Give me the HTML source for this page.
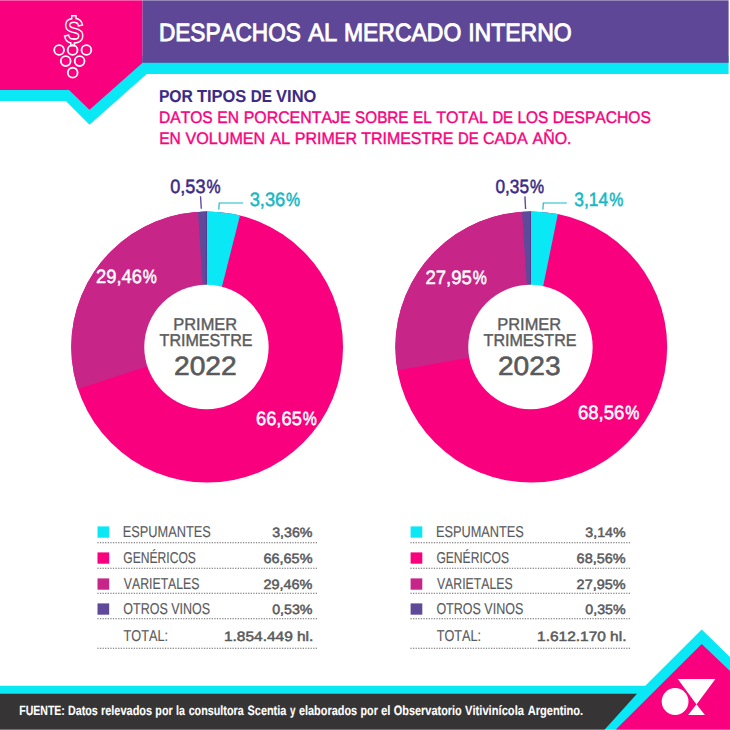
<!DOCTYPE html>
<html lang="es"><head><meta charset="utf-8"><title>Despachos al mercado interno</title>
<style>
html,body{margin:0;padding:0;background:#fff;}
body{width:730px;height:730px;overflow:hidden;}
svg{display:block;}
text{font-family:"Liberation Sans",sans-serif;font-kerning:none;text-rendering:geometricPrecision;}
</style></head><body>
<svg width="730" height="730" viewBox="0 0 730 730">
<rect width="730" height="730" fill="#fff"/>
<path d="M0 56H728.6V74H146.7L89.5 124.8L65.8 101H0Z" fill="#0AE8F6"/>
<rect x="142.3" y="0" width="586.3" height="62.8" fill="#5E4796"/>
<path d="M0 0H142.3V63L89.5 109.8L69 90H0Z" fill="#F8007E"/>
<g fill="#F8007E" stroke="#fff" stroke-width="3" paint-order="stroke" stroke-linejoin="miter"><rect x="72.5" y="16.5" width="2.8" height="5"/><rect x="71.5" y="39.5" width="2.2" height="5.5"/><text transform="translate(73.7 41.8) scale(0.88 1)" x="0" y="0" font-size="32.6" text-anchor="middle">S</text></g>
<rect x="72.5" y="17.5" width="2.8" height="3.6" fill="#F8007E"/><rect x="71.5" y="39.8" width="2.2" height="4" fill="#F8007E"/>
<circle cx="59.1" cy="50" r="4.9" fill="none" stroke="#fff" stroke-width="1.85"/>
<circle cx="72.6" cy="50" r="4.9" fill="none" stroke="#fff" stroke-width="1.85"/>
<circle cx="86.4" cy="50" r="4.9" fill="none" stroke="#fff" stroke-width="1.85"/>
<circle cx="65.7" cy="61.1" r="4.9" fill="none" stroke="#fff" stroke-width="1.85"/>
<circle cx="79.6" cy="61.1" r="4.9" fill="none" stroke="#fff" stroke-width="1.85"/>
<circle cx="72.7" cy="72.7" r="4.9" fill="none" stroke="#fff" stroke-width="1.85"/>
<text font-size="26.4" fill="#fff" font-weight="normal"><tspan x="158.93" y="41.18" font-size="25.00" textLength="141.89" lengthAdjust="spacingAndGlyphs" stroke="#fff" stroke-width="0.96">DESPACHOS</tspan> <tspan x="308.21" y="41.18" font-size="25.08" textLength="29.02" lengthAdjust="spacingAndGlyphs" stroke="#fff" stroke-width="0.91">AL</tspan> <tspan x="343.89" y="41.18" font-size="25.03" textLength="117.41" lengthAdjust="spacingAndGlyphs" stroke="#fff" stroke-width="0.94">MERCADO</tspan> <tspan x="468.15" y="41.18" font-size="25.03" textLength="103.56" lengthAdjust="spacingAndGlyphs" stroke="#fff" stroke-width="0.94">INTERNO</tspan></text>
<text font-size="17.4" fill="#3C2A85" font-weight="bold"><tspan x="158.91" y="101.60" font-size="17.24" textLength="33.85" lengthAdjust="spacingAndGlyphs" stroke="#3C2A85" stroke-width="0.11">POR</tspan> <tspan x="196.95" y="101.60" font-size="17.31" textLength="49.26" lengthAdjust="spacingAndGlyphs" stroke="#3C2A85" stroke-width="0.06">TIPOS</tspan> <tspan x="250.65" y="101.60" font-size="17.20" textLength="21.18" lengthAdjust="spacingAndGlyphs" stroke="#3C2A85" stroke-width="0.13">DE</tspan> <tspan x="276.12" y="101.60" font-size="17.31" textLength="40.24" lengthAdjust="spacingAndGlyphs" stroke="#3C2A85" stroke-width="0.06">VINO</tspan></text>
<text font-size="17.4" fill="#F8007E" font-weight="normal"><tspan x="159.03" y="122.62" font-size="16.80" textLength="53.77" lengthAdjust="spacingAndGlyphs" stroke="#F8007E" stroke-width="0.41">DATOS</tspan> <tspan x="217.33" y="122.62" font-size="16.80" textLength="21.63" lengthAdjust="spacingAndGlyphs" stroke="#F8007E" stroke-width="0.41">EN</tspan> <tspan x="243.70" y="122.62" font-size="16.82" textLength="106.86" lengthAdjust="spacingAndGlyphs" stroke="#F8007E" stroke-width="0.40">PORCENTAJE</tspan> <tspan x="355.12" y="122.62" font-size="16.77" textLength="53.40" lengthAdjust="spacingAndGlyphs" stroke="#F8007E" stroke-width="0.43">SOBRE</tspan> <tspan x="413.07" y="122.62" font-size="16.77" textLength="18.62" lengthAdjust="spacingAndGlyphs" stroke="#F8007E" stroke-width="0.43">EL</tspan> <tspan x="436.13" y="122.62" font-size="16.83" textLength="51.79" lengthAdjust="spacingAndGlyphs" stroke="#F8007E" stroke-width="0.39">TOTAL</tspan> <tspan x="492.41" y="122.62" font-size="16.74" textLength="20.60" lengthAdjust="spacingAndGlyphs" stroke="#F8007E" stroke-width="0.45">DE</tspan> <tspan x="517.55" y="122.62" font-size="16.78" textLength="30.84" lengthAdjust="spacingAndGlyphs" stroke="#F8007E" stroke-width="0.42">LOS</tspan> <tspan x="552.83" y="122.62" font-size="16.80" textLength="98.06" lengthAdjust="spacingAndGlyphs" stroke="#F8007E" stroke-width="0.41">DESPACHOS</tspan></text>
<text font-size="17.4" fill="#F8007E" font-weight="normal"><tspan x="159.13" y="143.92" font-size="16.80" textLength="21.63" lengthAdjust="spacingAndGlyphs" stroke="#F8007E" stroke-width="0.41">EN</tspan> <tspan x="185.62" y="143.92" font-size="16.83" textLength="79.57" lengthAdjust="spacingAndGlyphs" stroke="#F8007E" stroke-width="0.39">VOLUMEN</tspan> <tspan x="269.95" y="143.92" font-size="16.87" textLength="20.32" lengthAdjust="spacingAndGlyphs" stroke="#F8007E" stroke-width="0.36">AL</tspan> <tspan x="294.78" y="143.92" font-size="16.83" textLength="62.25" lengthAdjust="spacingAndGlyphs" stroke="#F8007E" stroke-width="0.39">PRIMER</tspan> <tspan x="361.24" y="143.92" font-size="16.82" textLength="92.12" lengthAdjust="spacingAndGlyphs" stroke="#F8007E" stroke-width="0.40">TRIMESTRE</tspan> <tspan x="458.01" y="143.92" font-size="16.74" textLength="20.60" lengthAdjust="spacingAndGlyphs" stroke="#F8007E" stroke-width="0.45">DE</tspan> <tspan x="482.98" y="143.92" font-size="16.83" textLength="44.65" lengthAdjust="spacingAndGlyphs" stroke="#F8007E" stroke-width="0.39">CADA</tspan> <tspan x="532.57" y="143.92" font-size="16.82" textLength="38.98" lengthAdjust="spacingAndGlyphs" stroke="#F8007E" stroke-width="0.40">AÑO.</tspan></text>
<clipPath id="ring1"><ellipse cx="207.15" cy="347.0" rx="135.9" ry="135.5"/></clipPath>
<g clip-path="url(#ring1)">
<rect x="69.2" y="208.9" width="275.8" height="275.8" fill="#F8007E"/>
<path d="M207.15 346.8L-1.96 415.15A220 220 0 0 1 207.15 126.80Z" fill="#C82588"/>
<path d="M206.7 347L206.70 127.00A220 220 0 0 1 260.67 133.72Z" fill="#0AE8F6"/>
<path d="M206.7 347L192.50 127.46A220 220 0 0 1 207.08 127.00Z" fill="#5F4A9A"/>
<line x1="206.39999999999998" y1="209.9" x2="206.39999999999998" y2="284.6" stroke="#4A3690" stroke-width="0.7"/>
</g>
<circle cx="206.45" cy="347.05" r="62.2" fill="#fff"/>
<clipPath id="ring2"><ellipse cx="531.25" cy="347.0" rx="135.9" ry="135.5"/></clipPath>
<g clip-path="url(#ring2)">
<rect x="393.4" y="208.9" width="275.8" height="275.8" fill="#F8007E"/>
<path d="M531.25 346.8L314.59 385.00A220 220 0 0 1 531.25 126.80Z" fill="#C82588"/>
<path d="M530.8 347L530.80 127.00A220 220 0 0 1 574.66 131.42Z" fill="#0AE8F6"/>
<path d="M530.8 347L516.60 127.46A220 220 0 0 1 531.18 127.00Z" fill="#5F4A9A"/>
<line x1="530.5" y1="209.9" x2="530.5" y2="284.6" stroke="#4A3690" stroke-width="0.7"/>
</g>
<circle cx="530.45" cy="347.05" r="62.2" fill="#fff"/>
<path d="M200.5 196.2L201.3 208.8" stroke="#5F4A9A" stroke-width="1.4" fill="none"/>
<path d="M218.8 209.6L219.2 203H243.2" stroke="#18B7C5" stroke-width="1.15" fill="none"/>
<path d="M524.9 196.4L525.6 209" stroke="#5F4A9A" stroke-width="1.4" fill="none"/>
<path d="M542.9 209.6L543.3 203H566.8" stroke="#18B7C5" stroke-width="1.15" fill="none"/>
<text font-size="19.9" fill="#3C2A85" font-weight="normal"><tspan x="170.24" y="193.08" font-size="19.19" textLength="35.31" lengthAdjust="spacingAndGlyphs" stroke="#3C2A85" stroke-width="0.49">0,53</tspan><tspan x="206.42" y="193.08" font-size="19.08" textLength="14.06" lengthAdjust="spacingAndGlyphs" stroke="#3C2A85" stroke-width="0.57">%</tspan></text>
<text font-size="19.9" fill="#18B7C5" font-weight="normal"><tspan x="249.64" y="206.28" font-size="19.20" textLength="35.61" lengthAdjust="spacingAndGlyphs" stroke="#18B7C5" stroke-width="0.48">3,36</tspan><tspan x="286.12" y="206.28" font-size="19.08" textLength="14.06" lengthAdjust="spacingAndGlyphs" stroke="#18B7C5" stroke-width="0.57">%</tspan></text>
<text font-size="19.9" fill="#fff" font-weight="normal"><tspan x="96.02" y="282.88" font-size="19.20" textLength="45.84" lengthAdjust="spacingAndGlyphs" stroke="#fff" stroke-width="0.48">29,46</tspan><tspan x="142.72" y="282.88" font-size="19.08" textLength="14.06" lengthAdjust="spacingAndGlyphs" stroke="#fff" stroke-width="0.57">%</tspan></text>
<text font-size="19.9" fill="#fff" font-weight="normal"><tspan x="256.01" y="424.97" font-size="19.20" textLength="45.81" lengthAdjust="spacingAndGlyphs" stroke="#fff" stroke-width="0.48">66,65</tspan><tspan x="302.72" y="424.97" font-size="19.08" textLength="14.06" lengthAdjust="spacingAndGlyphs" stroke="#fff" stroke-width="0.57">%</tspan></text>
<text font-size="19.9" fill="#3C2A85" font-weight="normal"><tspan x="495.49" y="193.08" font-size="19.15" textLength="33.58" lengthAdjust="spacingAndGlyphs" stroke="#3C2A85" stroke-width="0.52">0,35</tspan><tspan x="530.02" y="193.08" font-size="19.08" textLength="14.06" lengthAdjust="spacingAndGlyphs" stroke="#3C2A85" stroke-width="0.57">%</tspan></text>
<text font-size="19.9" fill="#18B7C5" font-weight="normal"><tspan x="574.19" y="206.28" font-size="19.16" textLength="33.96" lengthAdjust="spacingAndGlyphs" stroke="#18B7C5" stroke-width="0.51">3,14</tspan><tspan x="609.32" y="206.28" font-size="19.08" textLength="14.06" lengthAdjust="spacingAndGlyphs" stroke="#18B7C5" stroke-width="0.57">%</tspan></text>
<text font-size="19.9" fill="#fff" font-weight="normal"><tspan x="425.40" y="284.38" font-size="19.21" textLength="46.43" lengthAdjust="spacingAndGlyphs" stroke="#fff" stroke-width="0.47">27,95</tspan><tspan x="472.72" y="284.38" font-size="19.08" textLength="14.06" lengthAdjust="spacingAndGlyphs" stroke="#fff" stroke-width="0.57">%</tspan></text>
<text font-size="19.9" fill="#fff" font-weight="normal"><tspan x="577.89" y="419.38" font-size="19.21" textLength="46.48" lengthAdjust="spacingAndGlyphs" stroke="#fff" stroke-width="0.47">68,56</tspan><tspan x="625.22" y="419.38" font-size="19.08" textLength="14.06" lengthAdjust="spacingAndGlyphs" stroke="#fff" stroke-width="0.57">%</tspan></text>
<text x="173.25" y="330.20" font-size="17.21" fill="#595A5C" font-weight="normal" textLength="63.98" lengthAdjust="spacingAndGlyphs" stroke="#595A5C" stroke-width="0.40">PRIMER</text>
<text x="159.55" y="346.39" font-size="17.18" fill="#595A5C" font-weight="normal" textLength="92.98" lengthAdjust="spacingAndGlyphs" stroke="#595A5C" stroke-width="0.43">TRIMESTRE</text>
<text x="173.98" y="375.10" font-size="26.53" fill="#595A5C" font-weight="normal" textLength="62.74" lengthAdjust="spacingAndGlyphs" stroke="#595A5C" stroke-width="0.60">2022</text>
<text x="497.25" y="330.20" font-size="17.21" fill="#595A5C" font-weight="normal" textLength="63.98" lengthAdjust="spacingAndGlyphs" stroke="#595A5C" stroke-width="0.40">PRIMER</text>
<text x="483.55" y="346.39" font-size="17.18" fill="#595A5C" font-weight="normal" textLength="92.98" lengthAdjust="spacingAndGlyphs" stroke="#595A5C" stroke-width="0.43">TRIMESTRE</text>
<text x="497.99" y="375.10" font-size="26.53" fill="#595A5C" font-weight="normal" textLength="62.55" lengthAdjust="spacingAndGlyphs" stroke="#595A5C" stroke-width="0.60">2023</text>
<rect x="97.5" y="526.4" width="11.7" height="11.3" fill="#0AE8F6"/>
<text x="122.82" y="537.00" font-size="15.80" fill="#595A5C" font-weight="normal" textLength="87.89" lengthAdjust="spacingAndGlyphs" stroke="#595A5C" stroke-width="0.14">ESPUMANTES</text>
<rect x="97.5" y="552.4" width="11.7" height="11.3" fill="#F8007E"/>
<text x="123.28" y="563.00" font-size="15.76" fill="#595A5C" font-weight="normal" textLength="72.59" lengthAdjust="spacingAndGlyphs" stroke="#595A5C" stroke-width="0.17">GENÉRICOS</text>
<rect x="97.5" y="578.4" width="11.7" height="11.3" fill="#C82588"/>
<text x="123.83" y="589.00" font-size="15.77" fill="#595A5C" font-weight="normal" textLength="75.65" lengthAdjust="spacingAndGlyphs" stroke="#595A5C" stroke-width="0.16">VARIETALES</text>
<rect x="97.5" y="603.4" width="11.7" height="11.3" fill="#5F4A9A"/>
<text x="123.28" y="614.00" font-size="15.78" fill="#595A5C" font-weight="normal" textLength="86.91" lengthAdjust="spacingAndGlyphs" stroke="#595A5C" stroke-width="0.15">OTROS VINOS</text>
<text x="123.59" y="641.00" font-size="15.79" fill="#595A5C" font-weight="normal" textLength="44.40" lengthAdjust="spacingAndGlyphs" stroke="#595A5C" stroke-width="0.14">TOTAL:</text>
<text x="272.21" y="537.00" font-size="13.47" fill="#595A5C" font-weight="normal" textLength="40.25" lengthAdjust="spacingAndGlyphs" stroke="#595A5C" stroke-width="0.50">3,36%</text>
<text x="263.52" y="563.00" font-size="13.47" fill="#595A5C" font-weight="normal" textLength="48.95" lengthAdjust="spacingAndGlyphs" stroke="#595A5C" stroke-width="0.50">66,65%</text>
<text x="263.52" y="589.00" font-size="13.47" fill="#595A5C" font-weight="normal" textLength="48.94" lengthAdjust="spacingAndGlyphs" stroke="#595A5C" stroke-width="0.50">29,46%</text>
<text x="272.20" y="614.00" font-size="13.47" fill="#595A5C" font-weight="normal" textLength="40.26" lengthAdjust="spacingAndGlyphs" stroke="#595A5C" stroke-width="0.50">0,53%</text>
<text x="223.97" y="641.00" font-size="13.47" fill="#595A5C" font-weight="normal" textLength="89.39" lengthAdjust="spacingAndGlyphs" stroke="#595A5C" stroke-width="0.50">1.854.449 hl.</text>
<line x1="97.3" y1="542.7" x2="317.3" y2="542.7" stroke="#6a6a6a" stroke-width="1.1" stroke-dasharray="1.3 1.3"/>
<line x1="97.3" y1="568.2" x2="317.3" y2="568.2" stroke="#6a6a6a" stroke-width="1.1" stroke-dasharray="1.3 1.3"/>
<line x1="97.3" y1="593.3" x2="317.3" y2="593.3" stroke="#6a6a6a" stroke-width="1.1" stroke-dasharray="1.3 1.3"/>
<line x1="97.3" y1="618.8" x2="317.3" y2="618.8" stroke="#6a6a6a" stroke-width="1.1" stroke-dasharray="1.3 1.3"/>
<line x1="97.3" y1="648.2" x2="317.3" y2="648.2" stroke="#6a6a6a" stroke-width="1.1" stroke-dasharray="1.3 1.3"/>
<rect x="410.6" y="526.4" width="11.7" height="11.3" fill="#0AE8F6"/>
<text x="435.92" y="537.00" font-size="15.80" fill="#595A5C" font-weight="normal" textLength="87.89" lengthAdjust="spacingAndGlyphs" stroke="#595A5C" stroke-width="0.14">ESPUMANTES</text>
<rect x="410.6" y="552.4" width="11.7" height="11.3" fill="#F8007E"/>
<text x="436.38" y="563.00" font-size="15.76" fill="#595A5C" font-weight="normal" textLength="72.59" lengthAdjust="spacingAndGlyphs" stroke="#595A5C" stroke-width="0.17">GENÉRICOS</text>
<rect x="410.6" y="578.4" width="11.7" height="11.3" fill="#C82588"/>
<text x="436.93" y="589.00" font-size="15.77" fill="#595A5C" font-weight="normal" textLength="75.65" lengthAdjust="spacingAndGlyphs" stroke="#595A5C" stroke-width="0.16">VARIETALES</text>
<rect x="410.6" y="603.4" width="11.7" height="11.3" fill="#5F4A9A"/>
<text x="436.38" y="614.00" font-size="15.78" fill="#595A5C" font-weight="normal" textLength="86.91" lengthAdjust="spacingAndGlyphs" stroke="#595A5C" stroke-width="0.15">OTROS VINOS</text>
<text x="436.69" y="641.00" font-size="15.79" fill="#595A5C" font-weight="normal" textLength="44.40" lengthAdjust="spacingAndGlyphs" stroke="#595A5C" stroke-width="0.14">TOTAL:</text>
<text x="585.31" y="537.00" font-size="13.47" fill="#595A5C" font-weight="normal" textLength="40.25" lengthAdjust="spacingAndGlyphs" stroke="#595A5C" stroke-width="0.50">3,14%</text>
<text x="576.62" y="563.00" font-size="13.47" fill="#595A5C" font-weight="normal" textLength="48.95" lengthAdjust="spacingAndGlyphs" stroke="#595A5C" stroke-width="0.50">68,56%</text>
<text x="576.62" y="589.00" font-size="13.47" fill="#595A5C" font-weight="normal" textLength="48.94" lengthAdjust="spacingAndGlyphs" stroke="#595A5C" stroke-width="0.50">27,95%</text>
<text x="585.30" y="614.00" font-size="13.47" fill="#595A5C" font-weight="normal" textLength="40.26" lengthAdjust="spacingAndGlyphs" stroke="#595A5C" stroke-width="0.50">0,35%</text>
<text x="537.07" y="641.00" font-size="13.47" fill="#595A5C" font-weight="normal" textLength="89.39" lengthAdjust="spacingAndGlyphs" stroke="#595A5C" stroke-width="0.50">1.612.170 hl.</text>
<line x1="410.4" y1="542.7" x2="630.4" y2="542.7" stroke="#6a6a6a" stroke-width="1.1" stroke-dasharray="1.3 1.3"/>
<line x1="410.4" y1="568.2" x2="630.4" y2="568.2" stroke="#6a6a6a" stroke-width="1.1" stroke-dasharray="1.3 1.3"/>
<line x1="410.4" y1="593.3" x2="630.4" y2="593.3" stroke="#6a6a6a" stroke-width="1.1" stroke-dasharray="1.3 1.3"/>
<line x1="410.4" y1="618.8" x2="630.4" y2="618.8" stroke="#6a6a6a" stroke-width="1.1" stroke-dasharray="1.3 1.3"/>
<line x1="410.4" y1="648.2" x2="630.4" y2="648.2" stroke="#6a6a6a" stroke-width="1.1" stroke-dasharray="1.3 1.3"/>
<path d="M0 685.8H645.3L701.7 629.6L730 657V730H0Z" fill="#0AE8F6"/>
<path d="M0 693.8H637L604.3 730H0Z" fill="#363435"/>
<path d="M701.7 644L730 671V730H615.3Z" fill="#F8007E"/>
<circle cx="675.1" cy="701.5" r="13.4" fill="#fff"/>
<path d="M677.8 679.1H715.4L696.5 704.5Z M696.5 704.3L704.9 714.9H688.1Z" fill="#fff"/>
<text font-size="13.65" fill="#fff" font-weight="bold"><tspan x="19.26" y="715.30" font-size="13.47" textLength="45.59" lengthAdjust="spacingAndGlyphs" stroke="#fff" stroke-width="0.13">FUENTE:</tspan> <tspan x="67.94" y="715.30" font-size="13.48" textLength="29.84" lengthAdjust="spacingAndGlyphs" stroke="#fff" stroke-width="0.12">Datos</tspan> <tspan x="100.93" y="715.30" font-size="13.49" textLength="51.26" lengthAdjust="spacingAndGlyphs" stroke="#fff" stroke-width="0.11">relevados</tspan> <tspan x="155.35" y="715.30" font-size="13.48" textLength="17.25" lengthAdjust="spacingAndGlyphs" stroke="#fff" stroke-width="0.12">por</tspan> <tspan x="176.02" y="715.30" font-size="13.48" textLength="8.86" lengthAdjust="spacingAndGlyphs" stroke="#fff" stroke-width="0.12">la</tspan> <tspan x="188.64" y="715.30" font-size="13.48" textLength="55.03" lengthAdjust="spacingAndGlyphs" stroke="#fff" stroke-width="0.12">consultora</tspan> <tspan x="247.54" y="715.30" font-size="13.49" textLength="38.83" lengthAdjust="spacingAndGlyphs" stroke="#fff" stroke-width="0.11">Scentia</tspan> <tspan x="290.09" y="715.30" font-size="13.44" textLength="5.49" lengthAdjust="spacingAndGlyphs" stroke="#fff" stroke-width="0.14">y</tspan> <tspan x="298.93" y="715.30" font-size="13.49" textLength="58.26" lengthAdjust="spacingAndGlyphs" stroke="#fff" stroke-width="0.11">elaborados</tspan> <tspan x="360.55" y="715.30" font-size="13.48" textLength="17.25" lengthAdjust="spacingAndGlyphs" stroke="#fff" stroke-width="0.12">por</tspan> <tspan x="380.99" y="715.30" font-size="13.53" textLength="9.58" lengthAdjust="spacingAndGlyphs" stroke="#fff" stroke-width="0.08">el</tspan> <tspan x="393.81" y="715.30" font-size="13.49" textLength="67.96" lengthAdjust="spacingAndGlyphs" stroke="#fff" stroke-width="0.11">Observatorio</tspan> <tspan x="465.07" y="715.30" font-size="13.50" textLength="58.90" lengthAdjust="spacingAndGlyphs" stroke="#fff" stroke-width="0.10">Vitivinícola</tspan> <tspan x="527.67" y="715.30" font-size="13.50" textLength="55.54" lengthAdjust="spacingAndGlyphs" stroke="#fff" stroke-width="0.10">Argentino.</tspan></text>
<rect x="0" y="0" width="730" height="1" fill="#fff" opacity="0.35"/>
<rect x="0" y="729" width="730" height="1" fill="#fff" opacity="0.3"/>
</svg></body></html>
